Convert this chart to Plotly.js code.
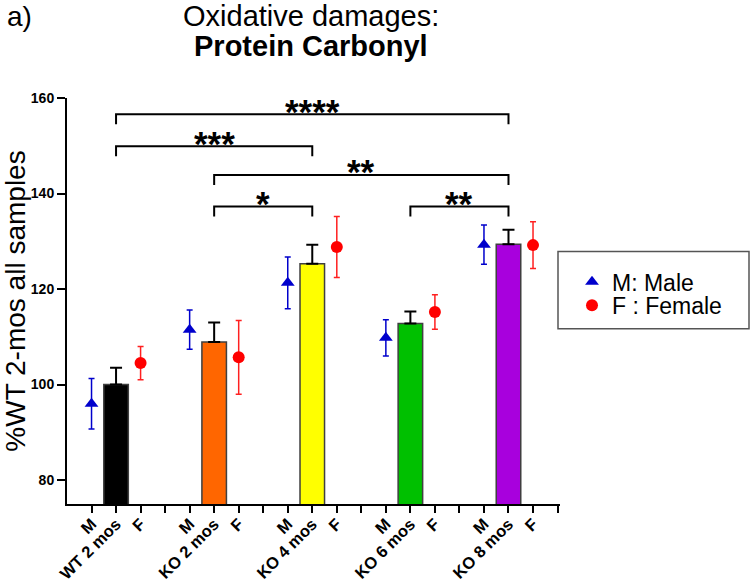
<!DOCTYPE html>
<html>
<head>
<meta charset="utf-8">
<script src="https://cdn.plot.ly/plotly-3.0.1.min.js"></script>
<style>html,body{margin:0;padding:0;background:#fff;}#chart{width:750px;height:583px;}</style>
</head>
<body>
<div id="chart"></div>
<script>
// ---- data ----
const groups = ["WT 2 mos", "KO 2 mos", "KO 4 mos", "KO 6 mos", "KO 8 mos"];
const barMean = [100.0, 108.9, 125.3, 112.8, 129.4];
const barErr = [3.5, 4.1, 4.0, 2.5, 3.0];
const maleMean = [96.0, 111.5, 121.3, 109.8, 129.3];
const maleErr = [5.3, 4.1, 5.4, 3.8, 4.1];
const femaleMean = [104.5, 105.7, 128.8, 115.2, 129.2];
const femaleErr = [3.5, 7.7, 6.4, 3.6, 4.9];
const barColors = ["#000000", "#FF6600", "#FFFF00", "#00C000", "#A800DD"];
const compFrom = [0, 0, 1, 1, 3];
const compTo = [4, 2, 4, 2, 4];
const compLabel = ["****", "***", "**", "*", "**"];
const compLevel = [156.6, 149.9, 143.9, 137.3, 137.3];
const yTicks = [80, 100, 120, 140, 160];

// ---- layout helpers ----
const xBar = groups.map((g, i) => 4 * i + 1);
const xMale = groups.map((g, i) => 4 * i);
const xFemale = groups.map((g, i) => 4 * i + 2);
const tickVals = [];
const tickText = [];
groups.forEach((g, i) => {
  tickVals.push(4 * i, 4 * i + 1, 4 * i + 2, 4 * i + 3);
  tickText.push("M", g, "F", "");
});

const FONT = "Arial, Liberation Sans, sans-serif";
const traces = [
  {
    type: "bar", x: xBar, y: barMean, width: 1.0, showlegend: false,
    marker: {color: barColors, line: {color: "#404040", width: 1.5}},
    error_y: {type: "data", symmetric: false, array: barErr, arrayminus: barErr.map(() => 0),
      color: "#000000", thickness: 2, width: 6}
  },
  {
    type: "scatter", mode: "markers", name: "M: Male", x: xMale, y: maleMean, legend: "legend",
    marker: {symbol: "triangle-up", size: 12, color: "#0000CC"},
    error_y: {type: "data", array: maleErr, color: "#0000CC", thickness: 1.5, width: 3}
  },
  {
    type: "scatter", mode: "markers", name: "F : Female", x: xFemale, y: femaleMean, legend: "legend2",
    marker: {symbol: "circle", size: 12, color: "#FF0000"},
    error_y: {type: "data", array: femaleErr, color: "#FF2020", thickness: 1.5, width: 3}
  }
];

const drop = 2.1;
const shapes = compFrom.map((a, k) => {
  const x1 = 4 * a + 1, x2 = 4 * compTo[k] + 1, y = compLevel[k];
  return {type: "path", xref: "x", yref: "y",
    path: `M ${x1},${y - drop} L ${x1},${y} L ${x2},${y} L ${x2},${y - drop}`,
    line: {color: "#000", width: 2}};
});
// legend frame
shapes.push({type: "rect", xref: "paper", yref: "paper",
  x0: (558 - 67) / 493, x1: (749 - 67) / 493, y0: (504.3 - 329) / 406, y1: (504.3 - 251.7) / 406,
  line: {color: "#555", width: 1.5}, fillcolor: "rgba(0,0,0,0)"});

const annotations = compFrom.map((a, k) => ({
  xref: "x", yref: "y", x: (4 * a + 1 + 4 * compTo[k] + 1) / 2, y: compLevel[k],
  text: compLabel[k], showarrow: false, yanchor: "middle", yshift: 3,
  font: {family: FONT, size: 35, color: "#000", weight: "bold"}
}));
annotations.push(
  {xref: "paper", yref: "paper", x: (5 - 67) / 493, y: (504.3 - 17) / 406, xanchor: "left", yanchor: "middle",
   text: "a)", showarrow: false, font: {family: FONT, size: 28, color: "#000"}},
  {xref: "paper", yref: "paper", x: 0.495, y: (504.3 - 16) / 406, xanchor: "center", yanchor: "middle",
   text: "Oxidative damages:", showarrow: false, font: {family: FONT, size: 29, color: "#000"}},
  {xref: "paper", yref: "paper", x: 0.495, y: (504.3 - 46) / 406, xanchor: "center", yanchor: "middle",
   text: "<b>Protein Carbonyl</b>", showarrow: false, font: {family: FONT, size: 29, color: "#000"}}
);

const legendBase = {x: (572 - 67) / 493, xanchor: "left", yanchor: "middle",
  font: {family: FONT, size: 23, color: "#000"}, bgcolor: "rgba(0,0,0,0)", borderwidth: 0};

const layout = {
  width: 750, height: 583,
  margin: {l: 67, r: 190, t: 98, b: 79},
  paper_bgcolor: "#fff", plot_bgcolor: "#fff",
  font: {family: FONT, color: "#000"},
  xaxis: {
    range: [-1, 19.1], tickmode: "array", tickvals: tickVals, ticktext: tickText,
    tickangle: -45, ticks: "outside", ticklen: 7, tickwidth: 2, tickcolor: "#000",
    ticklabelstandoff: -5,
    showline: true, linewidth: 2, linecolor: "#000", showgrid: false, zeroline: false,
    tickfont: {size: 16.5, weight: "bold", color: "#000"}
  },
  yaxis: {
    range: [75, 160], tickmode: "array", tickvals: yTicks,
    ticks: "outside", ticklen: 8, tickwidth: 2, tickcolor: "#000",
    showline: true, linewidth: 2, linecolor: "#000", showgrid: false, zeroline: false,
    tickfont: {size: 14, weight: "bold", color: "#000"},
    title: {text: "%WT 2-mos all samples", font: {size: 28, color: "#000"}, standoff: 3}
  },
  showlegend: true,
  legend: Object.assign({}, legendBase, {y: (504.3 - 282) / 406}),
  legend2: Object.assign({}, legendBase, {y: (504.3 - 305.5) / 406}),
  shapes: shapes,
  annotations: annotations,
  bargap: 0
};

Plotly.newPlot("chart", traces, layout, {displayModeBar: false, staticPlot: true});
</script>
</body>
</html>
